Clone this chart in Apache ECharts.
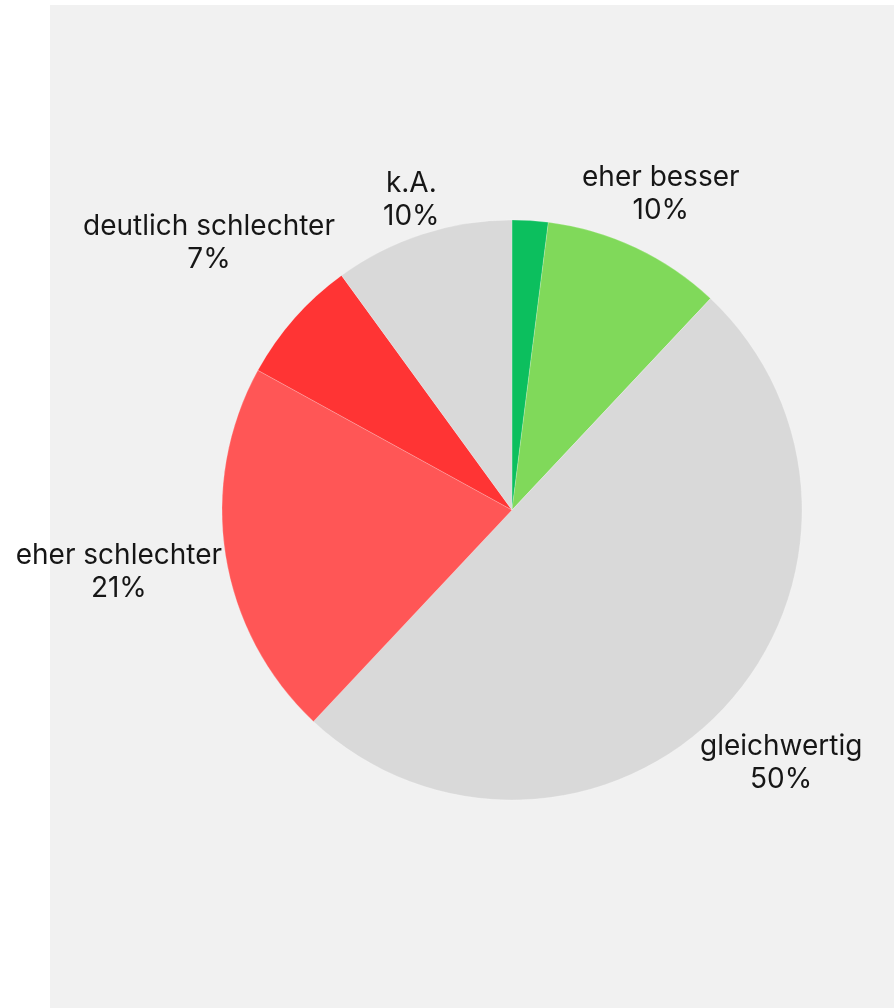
<!DOCTYPE html>
<html>
<head>
<meta charset="utf-8">
<script src="https://cdn.jsdelivr.net/npm/echarts@6/dist/echarts.min.js"></script>
<style>
  html, body { margin: 0; padding: 0; background: #ffffff; }
  #chart { width: 894px; height: 1008px; }
</style>
</head>
<body>
<div id="chart"></div>
<script>
// Daten
var categories = ['deutlich besser', 'eher besser', 'gleichwertig', 'eher schlechter', 'deutlich schlechter', 'k.A.'];
var values = [2, 10, 50, 21, 7, 10];
var colors = ['#0cbf5e', '#80d95a', '#d9d9d9', '#ff5656', '#ff3434', '#d9d9d9'];
var showLabel = [false, true, true, true, true, true];

var cx = 512, cy = 510, radius = 290;
var total = values.reduce(function (a, b) { return a + b; }, 0);

// Mittelwinkel jedes Segments (im Uhrzeigersinn ab 12 Uhr)
function midAngle(idx) {
  var before = 0;
  for (var i = 0; i < idx; i++) before += values[i];
  return (before + values[idx] / 2) / total * Math.PI * 2;
}

var chart = echarts.init(document.getElementById('chart'));

var option = {
  backgroundColor: 'transparent',
  animation: false,
  graphic: [{
    type: 'rect',
    z: -10,
    shape: { x: 50, y: 5, width: 844, height: 1003 },
    style: { fill: '#f1f1f1' }
  }],
  series: [{
    type: 'pie',
    center: [cx, cy],
    radius: radius,
    startAngle: 90,
    clockwise: true,
    itemStyle: { borderColor: 'rgba(255,255,255,0.4)', borderWidth: 0.5 },
    label: {
      position: 'outside',
      alignTo: 'none',
      overflow: 'none',
      formatter: '{b}\n{d}%',
      color: '#161616',
      fontFamily: 'Inter',
      fontSize: 28,
      lineHeight: 33,
      align: 'center'
    },
    labelLine: { show: false },
    // Label so platzieren, dass die Box den Kreis gerade berührt
    labelLayout: function (params) {
      var a = midAngle(params.dataIndex);
      var ux = Math.sin(a), uy = -Math.cos(a);
      var hw = params.labelRect.width / 2, hh = params.labelRect.height / 2;
      var d = radius + 2 + hw * Math.abs(ux) + hh * 0.8 * Math.abs(uy);
      return {
        x: cx + ux * d,
        y: cy + uy * d,
        align: 'center',
        verticalAlign: 'middle'
      };
    },
    data: categories.map(function (name, i) {
      return {
        name: name,
        value: values[i],
        itemStyle: { color: colors[i] },
        label: { show: showLabel[i] }
      };
    })
  }]
};

chart.setOption(option);
</script>
</body>
</html>
